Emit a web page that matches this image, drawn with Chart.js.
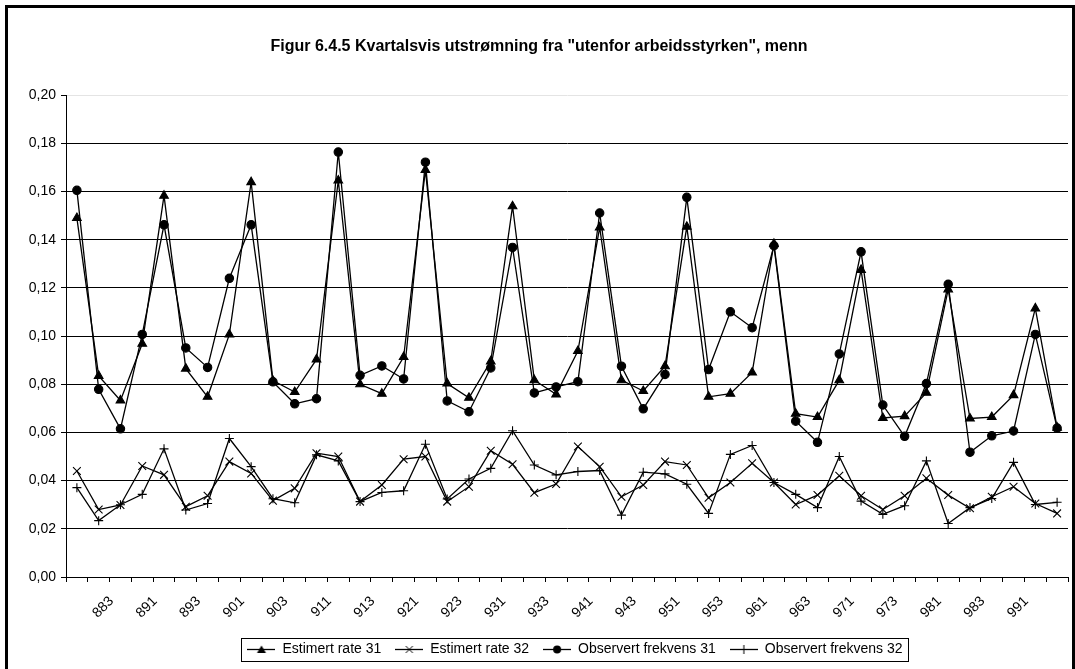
<!DOCTYPE html>
<html>
<head>
<meta charset="utf-8">
<script src="https://cdn.jsdelivr.net/npm/chart.js@4.4.1/dist/chart.umd.min.js"></script>
<style>
  html, body { margin: 0; padding: 0; background: #fff; overflow: hidden; }
  #frame { position: absolute; left: 5px; top: 5px; width: 1070px; height: 720px; border: 3px solid #000; box-sizing: border-box; }
  #wrap { position: absolute; left: 0; top: 0; width: 1075px; height: 700px; }
</style>
</head>
<body>
<div id="frame"></div>
<div id="wrap"><canvas id="chart" width="1075" height="700"></canvas></div>
<script>
// kvartaler 881 - 992
const quarters = [
  '881', '882', '883', '884', '891', '892', '893', '894', '901', '902', '903', '904',
  '911', '912', '913', '914', '921', '922', '923', '924', '931', '932', '933', '934',
  '941', '942', '943', '944', '951', '952', '953', '954', '961', '962', '963', '964',
  '971', '972', '973', '974', '981', '982', '983', '984', '991', '992'
];
// bare disse vises på aksen
const shownLabels = ['883', '891', '893', '901', '903', '911', '913', '921', '923', '931', '933',
  '941', '943', '951', '953', '961', '963', '971', '973', '981', '983', '991'];
const yTicks = [0, 0.02, 0.04, 0.06, 0.08, 0.10, 0.12, 0.14, 0.16, 0.18, 0.20];

const estRate31 = [0.149, 0.0835, 0.0733, 0.0968, 0.1583, 0.0865, 0.0748, 0.1007, 0.1639, 0.0815,
  0.0768, 0.0903, 0.1646, 0.080, 0.0761, 0.0913, 0.169, 0.0803, 0.0744, 0.0895,
  0.1539, 0.0817, 0.0758, 0.0938, 0.1451, 0.0817, 0.0772, 0.0875, 0.1454, 0.0748,
  0.0761, 0.0849, 0.1383, 0.0678, 0.0664, 0.0817, 0.1275, 0.066, 0.0668, 0.0765,
  0.1194, 0.0658, 0.0664, 0.0755, 0.1115, 0.062];
const estRate32 = [0.044, 0.028, 0.0299, 0.0461, 0.0424, 0.0292, 0.0337, 0.0479, 0.043, 0.0317,
  0.0368, 0.0514, 0.050, 0.0313, 0.0382, 0.0489, 0.050, 0.0313, 0.0375, 0.0524,
  0.0468, 0.035, 0.0386, 0.0542, 0.0458, 0.0333, 0.0382, 0.0479, 0.0465, 0.0329,
  0.0392, 0.0472, 0.0392, 0.0301, 0.034, 0.042, 0.0337, 0.028, 0.0337, 0.041,
  0.034, 0.0285, 0.0333, 0.0375, 0.0305, 0.0264];
const obsFrek31 = [0.1605, 0.0779, 0.0615, 0.1007, 0.1462, 0.0951, 0.087, 0.124, 0.1462, 0.081,
  0.0719, 0.074, 0.1764, 0.0837, 0.0876, 0.0822, 0.1722, 0.0731, 0.0686, 0.0868,
  0.1368, 0.0764, 0.0789, 0.0811, 0.1511, 0.0875, 0.0698, 0.0841, 0.1576, 0.0861,
  0.1101, 0.1035, 0.1375, 0.0647, 0.0559, 0.0926, 0.135, 0.0714, 0.0584, 0.0803,
  0.1215, 0.0518, 0.0586, 0.0606, 0.1007, 0.0618];
const obsFrek32 = [0.0371, 0.0234, 0.030, 0.0343, 0.0532, 0.0278, 0.0305, 0.0575, 0.0458, 0.0325,
  0.0308, 0.0507, 0.0482, 0.0313, 0.0351, 0.0358, 0.0551, 0.0324, 0.0407, 0.0451,
  0.0607, 0.0465, 0.0424, 0.0438, 0.0442, 0.0257, 0.0435, 0.0428, 0.0385, 0.0264,
  0.0509, 0.0546, 0.0392, 0.0343, 0.0288, 0.050, 0.0315, 0.026, 0.0296, 0.0482,
  0.0222, 0.0288, 0.0326, 0.0476, 0.0301, 0.031];

const seriesNames = ['Estimert rate 31', 'Estimert rate 32', 'Observert frekvens 31', 'Observert frekvens 32'];
const FONT = "'Liberation Sans', Arial, sans-serif";

// legend-symbol: strek med markør i midten
function legendIcon(style) {
  const c = document.createElement('canvas');
  c.width = 28; c.height = 11;
  const g = c.getContext('2d');
  g.strokeStyle = '#000'; g.fillStyle = '#000'; g.lineWidth = 1.3;
  g.beginPath(); g.moveTo(0, 5.5); g.lineTo(28, 5.5); g.stroke();
  g.lineWidth = 1;
  g.beginPath();
  if (style === 'triangle') {
    g.moveTo(14, 1.5); g.lineTo(18.5, 9); g.lineTo(9.5, 9); g.closePath(); g.fill();
  } else if (style === 'circle') {
    g.arc(14, 5.5, 4, 0, Math.PI * 2); g.fill();
  } else if (style === 'crossRot') {
    g.moveTo(10.5, 2); g.lineTo(17.5, 9); g.moveTo(17.5, 2); g.lineTo(10.5, 9); g.stroke();
  } else {
    g.moveTo(14, 1); g.lineTo(14, 10); g.stroke();
  }
  return c;
}
const icons = ['triangle', 'crossRot', 'circle', 'cross'].map(legendIcon);

function makeSet(i, data, style, radius) {
  return {
    label: seriesNames[i],
    data: data,
    borderColor: '#000',
    backgroundColor: '#000',
    borderWidth: 1.3,
    pointStyle: style,
    pointRadius: radius,
    pointBorderWidth: 1.1,
    pointBorderColor: '#000',
    pointBackgroundColor: '#000',
    tension: 0
  };
}

const legendBorder = {
  id: 'legendBorder',
  afterLayout(chart) {
    // forklaringen står litt til høyre for midten
    chart.legend.left += 8;
    chart.legend.right += 8;
  },
  afterDraw(chart) {
    const hb = chart.legend.legendHitBoxes;
    if (!hb || !hb.length) return;
    const last = hb[hb.length - 1];
    const cy = hb[0].top + hb[0].height / 2;
    const ctx = chart.ctx;
    ctx.save();
    ctx.strokeStyle = '#000';
    ctx.lineWidth = 1;
    ctx.strokeRect(Math.round(hb[0].left - 6) + 0.5, Math.round(cy - 12) + 0.5,
      Math.round(last.left + last.width - hb[0].left + 12), 23);
    ctx.restore();
  }
};

new Chart(document.getElementById('chart'), {
  type: 'line',
  data: {
    labels: quarters,
    datasets: [
      makeSet(0, estRate31, 'triangle', 5),
      makeSet(1, estRate32, 'crossRot', 5.5),
      makeSet(2, obsFrek31, 'circle', 4.2),
      makeSet(3, obsFrek32, 'cross', 4.5)
    ]
  },
  options: {
    responsive: false,
    devicePixelRatio: 1,
    animation: false,
    layout: { padding: { left: 10, right: 7, top: 0, bottom: 33.5 } },
    plugins: {
      title: {
        display: true,
        text: 'Figur 6.4.5 Kvartalsvis utstrømning fra "utenfor arbeidsstyrken", menn',
        color: '#000',
        font: { family: FONT, size: 16, weight: 'bold' },
        padding: { top: 37, bottom: 39 }
      },
      legend: {
        position: 'bottom',
        fullSize: false,
        maxHeight: 40,
        labels: {
          usePointStyle: true,
          pointStyleWidth: 28,
          padding: 14,
          color: '#000',
          font: { family: FONT, size: 14 },
          generateLabels(chart) {
            const items = Chart.defaults.plugins.legend.labels.generateLabels(chart);
            items.forEach((it, i) => { it.pointStyle = icons[i]; });
            return items;
          }
        }
      },
      tooltip: { enabled: false }
    },
    scales: {
      x: {
        offset: true,
        grid: { offset: true, drawOnChartArea: false, drawTicks: true, tickLength: 5, color: '#000' },
        border: { color: '#000', width: 1 },
        ticks: {
          autoSkip: false,
          minRotation: 45,
          maxRotation: 45,
          padding: 11,
          labelOffset: -9,
          color: '#000',
          font: { family: FONT, size: 14 },
          callback(val, idx) {
            const q = quarters[idx];
            return shownLabels.includes(q) ? q : '';
          }
        },
        afterFit(s) {
          s.height = 51.5;
          s.paddingLeft = 0;
          s.paddingRight = 0;
        }
      },
      y: {
        min: 0,
        max: 0.2,
        afterBuildTicks(s) { s.ticks = yTicks.map(v => ({ value: v })); },
        grid: {
          color: c => (c.tick && c.tick.value >= 0.2 ? '#e4e4e4' : '#000'),
          tickColor: '#000',
          tickLength: 5
        },
        border: { color: '#000', width: 1 },
        ticks: {
          padding: 5,
          color: '#000',
          font: { family: FONT, size: 14 },
          callback: v => v.toFixed(2).replace('.', ',')
        },
        afterFit(s) { s.width = 56; }
      }
    }
  },
  plugins: [legendBorder]
});
</script>
</body>
</html>
